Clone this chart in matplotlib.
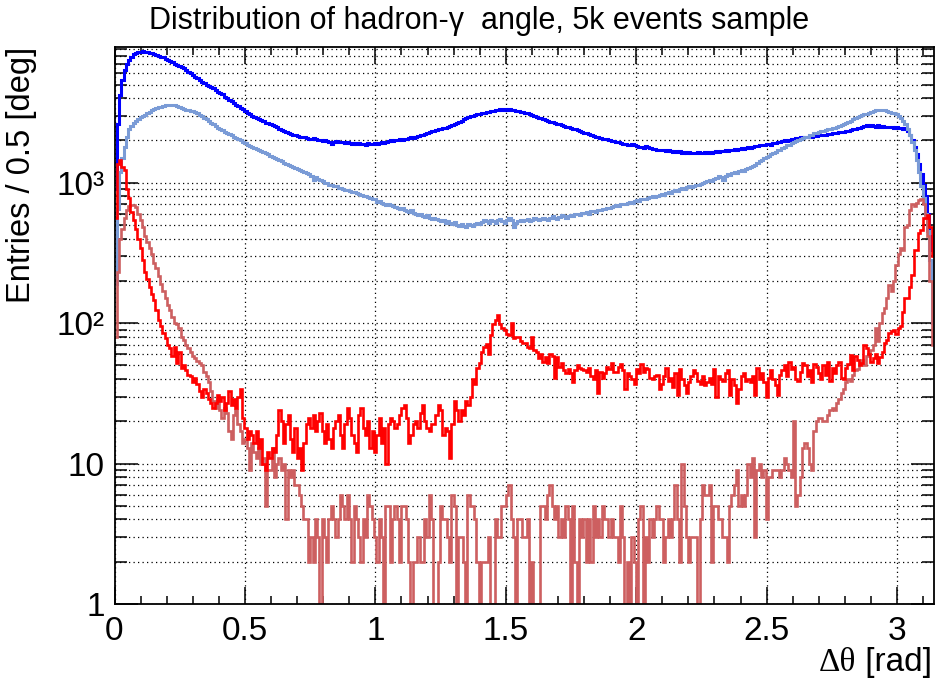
import numpy as np
import matplotlib
matplotlib.use("Agg")
import matplotlib.pyplot as plt
from matplotlib.ticker import MultipleLocator, LogLocator, NullFormatter

plt.rcParams['font.family'] = ['Liberation Sans', 'DejaVu Sans']

# ---------------- data ----------------
title = "Distribution of hadron-\u03b3  angle, 5k events sample"
x_label_sym = "\u0394\u03b8"
x_label_unit = " [rad]"
y_label = "Entries / 0.5 [deg]"

n_bins = 360                      # 0.5 deg bins over [0, pi]
x_min, x_max = 0.0, np.pi

x_ticks = [0, 0.5, 1, 1.5, 2, 2.5, 3]
x_tick_labels = ["0", "0.5", "1", "1.5", "2", "2.5", "3"]
y_ticks = [1, 10, 100, 1000]
y_tick_labels = ["1", "10", "10\u00b2", "10\u00b3"]

blue_dark = [
    900, 2600, 4200, 5400, 6300, 7000, 7500, 7900, 8200, 8400, 8500, 8550, 8600, 8550, 8500, 8450, 8350, 8250, 8150, 8000,
    7900, 7800, 7650, 7500, 7350, 7200, 7050, 6900, 6800, 6700, 6550, 6350, 6150, 6000, 5850, 5700, 5550, 5400, 5250, 5100,
    5000, 4900, 4800, 4700, 4550, 4450, 4350, 4250, 4100, 4000, 3900, 3800, 3700, 3600, 3500, 3420, 3350, 3250, 3150, 3080,
    3000, 2950, 2900, 2850, 2800, 2750, 2680, 2640, 2600, 2560, 2520, 2480, 2430, 2380, 2340, 2290, 2250, 2220, 2200, 2180,
    2150, 2130, 2100, 2120, 2080, 2060, 2050, 2070, 2030, 2010, 2000, 1990, 2010, 1980, 1960, 1880, 1950, 1970, 1950, 1940,
    1950, 1930, 1940, 1920, 1900, 1930, 1890, 1910, 1880, 1900, 1870, 1920, 1890, 1900, 1930, 1880, 1910, 1950, 1930, 1960,
    1980, 2000, 1970, 2010, 2000, 2040, 2020, 2060, 2050, 2080, 2100, 2090, 2130, 2150, 2180, 2200, 2230, 2250, 2290, 2320,
    2340, 2370, 2400, 2430, 2450, 2470, 2500, 2540, 2570, 2600, 2640, 2700, 2760, 2820, 2870, 2920, 2960, 3000, 3040, 3080,
    3100, 3120, 3160, 3200, 3210, 3250, 3230, 3280, 3300, 3330, 3310, 3340, 3300, 3320, 3290, 3280, 3260, 3230, 3200, 3180,
    3150, 3110, 3070, 3030, 2990, 2950, 2900, 2870, 2820, 2790, 2750, 2720, 2690, 2660, 2630, 2600, 2570, 2540, 2510, 2480,
    2450, 2420, 2400, 2370, 2340, 2300, 2270, 2250, 2220, 2190, 2160, 2130, 2100, 2090, 2060, 2040, 2030, 2010, 1990, 1970,
    1950, 1940, 1920, 1900, 1890, 1870, 1860, 1880, 1850, 1830, 1800, 1790, 1780, 1810, 1790, 1760, 1740, 1730, 1720, 1710,
    1710, 1700, 1690, 1710, 1680, 1660, 1680, 1650, 1670, 1640, 1660, 1630, 1650, 1620, 1640, 1630, 1660, 1620, 1640, 1650,
    1640, 1660, 1630, 1650, 1670, 1660, 1690, 1680, 1700, 1690, 1720, 1700, 1730, 1710, 1740, 1760, 1740, 1770, 1790, 1780,
    1800, 1820, 1810, 1840, 1860, 1850, 1880, 1900, 1870, 1910, 1930, 1950, 1940, 1970, 2000, 1980, 2020, 2040, 2060, 2080,
    2070, 2100, 2090, 2120, 2110, 2140, 2130, 2160, 2150, 2180, 2170, 2200, 2190, 2220, 2230, 2250, 2240, 2270, 2280, 2300,
    2310, 2330, 2350, 2380, 2400, 2420, 2440, 2470, 2500, 2520, 2560, 2540, 2580, 2550, 2510, 2560, 2490, 2520, 2480, 2500,
    2480, 2500, 2460, 2490, 2450, 2470, 2420, 2440, 2350, 2200, 2000, 1800, 1600, 1350, 1150, 970, 800, 600, 420, 330,
]

blue_light = [
    190, 650, 1200, 1500, 1800, 2100, 2400, 2550, 2650, 2750, 2850, 2950, 3000, 3050, 3150, 3200, 3280, 3350, 3400, 3450,
    3480, 3520, 3550, 3570, 3580, 3570, 3560, 3530, 3480, 3420, 3330, 3300, 3280, 3260, 3250, 3200, 3120, 3050, 2980, 2900,
    2820, 2740, 2680, 2600, 2540, 2470, 2420, 2360, 2310, 2260, 2210, 2170, 2130, 2080, 2040, 2000, 1960, 1910, 1870, 1830,
    1800, 1770, 1740, 1710, 1680, 1650, 1620, 1590, 1560, 1530, 1500, 1470, 1440, 1420, 1390, 1360, 1340, 1310, 1290, 1270,
    1250, 1230, 1210, 1190, 1170, 1150, 1120, 1050, 1100, 1060, 1040, 1020, 1000, 990, 970, 960, 940, 950, 920, 910,
    900, 890, 880, 870, 855, 860, 840, 830, 820, 810, 800, 790, 780, 770, 760, 730, 740, 720, 700, 690,
    700, 690, 680, 670, 660, 650, 665, 640, 630, 620, 635, 610, 600, 590, 595, 580, 570, 585, 560, 555,
    560, 550, 545, 530, 540, 520, 535, 515, 510, 525, 500, 490, 505, 495, 485, 510, 500, 490, 505, 520,
    510, 525, 540, 530, 520, 545, 530, 515, 540, 550, 535, 520, 540, 560, 545, 480, 520, 535, 545, 530,
    540, 550, 535, 545, 560, 550, 540, 555, 565, 550, 545, 560, 575, 565, 555, 570, 585, 575, 565, 580,
    590, 580, 600, 595, 590, 610, 605, 620, 600, 630, 625, 615, 640, 635, 650, 645, 660, 655, 670, 680,
    690, 680, 700, 710, 705, 720, 730, 715, 740, 750, 745, 760, 770, 765, 780, 790, 800, 795, 810, 820,
    830, 820, 845, 860, 850, 870, 885, 875, 900, 910, 900, 925, 940, 930, 950, 965, 955, 980, 995, 1010,
    1020, 1040, 1030, 1060, 1080, 1110, 1090, 1050, 1120, 1150, 1140, 1170, 1190, 1180, 1210, 1230, 1220, 1250, 1270, 1290,
    1310, 1340, 1380, 1420, 1450, 1490, 1530, 1560, 1600, 1630, 1660, 1700, 1720, 1760, 1800, 1840, 1870, 1910, 1950, 1990,
    2010, 2040, 2080, 2100, 2130, 2170, 2200, 2240, 2270, 2300, 2330, 2350, 2380, 2400, 2420, 2450, 2470, 2500, 2530, 2560,
    2600, 2650, 2700, 2760, 2820, 2870, 2920, 2970, 3010, 3060, 3100, 3150, 3190, 3230, 3270, 3300, 3310, 3290, 3280, 3250,
    3200, 3150, 3120, 3080, 3000, 2900, 2750, 2600, 2400, 2200, 1950, 1700, 1450, 1200, 950, 780, 600, 450, 280, 100,
]

red_dark = [
    560, 1350, 1450, 1300, 1240, 900, 780, 620, 540, 470, 400, 340, 280, 230, 205, 180, 160, 145, 125, 105,
    95, 85, 78, 70, 66, 58, 68, 52, 62, 48, 50, 46, 43, 42, 38, 41, 37, 33, 30, 34,
    32, 29, 27, 25, 27, 31, 28, 30, 24, 27, 33, 26, 29, 25, 30, 34, 21, 18, 15, 17,
    16, 14, 17, 13, 15, 10, 9, 12, 11, 13, 12, 16, 24, 20, 14, 19, 22, 15, 12, 18,
    11, 13, 9, 14, 19, 21, 18, 22, 17, 20, 23, 17, 14, 19, 15, 13, 18, 20, 22, 16,
    13, 19, 25, 21, 16, 14, 12, 22, 25, 18, 16, 20, 13, 17, 12, 16, 21, 14, 18, 10,
    19, 21, 20, 18, 19, 22, 25, 26, 21, 14, 16, 19, 20, 18, 23, 26, 20, 18, 17, 19,
    19, 22, 26, 24, 16, 18, 17, 11, 19, 28, 24, 20, 24, 22, 28, 26, 30, 40, 37, 48,
    52, 62, 68, 71, 60, 82, 98, 105, 115, 98, 92, 90, 84, 82, 100, 78, 80, 79, 75, 72,
    72, 68, 66, 79, 64, 62, 56, 60, 53, 57, 52, 60, 58, 41, 57, 49, 52, 46, 44, 47,
    44, 38, 46, 50, 48, 47, 46, 45, 48, 42, 40, 46, 32, 45, 41, 44, 49, 47, 52, 45,
    45, 49, 51, 46, 34, 44, 42, 40, 37, 47, 44, 51, 45, 48, 47, 41, 40, 42, 43, 34,
    37, 42, 48, 39, 41, 35, 44, 31, 47, 40, 36, 32, 38, 42, 46, 44, 39, 37, 42, 36,
    38, 41, 37, 47, 30, 42, 40, 39, 44, 46, 31, 40, 36, 27, 34, 42, 44, 39, 40, 38,
    42, 31, 48, 40, 44, 38, 30, 41, 46, 40, 36, 31, 43, 46, 50, 42, 53, 47, 49, 40,
    39, 45, 52, 50, 42, 46, 38, 51, 49, 44, 40, 50, 43, 53, 39, 48, 44, 50, 53, 41,
    40, 48, 51, 59, 46, 58, 55, 50, 52, 70, 66, 60, 53, 56, 60, 52, 57, 62, 72, 76,
    85, 88, 90, 84, 92, 95, 120, 150, 150, 180, 220, 330, 330, 440, 460, 560, 560, 590, 480, 300,
]

red_light = [
    80, 230, 400, 470, 560, 640, 680, 690, 690, 670, 600, 540, 480, 420, 380, 340, 310, 270, 245, 215,
    190, 170, 150, 135, 125, 110, 100, 98, 92, 80, 76, 70, 66, 62, 58, 56, 54, 52, 50, 45,
    42, 38, 33, 28, 25, 29, 24, 21, 25, 23, 17, 15, 22, 24, 19, 17, 14, 15, 13, 9,
    14, 12, 11, 13, 10, 11, 5, 9, 9, 13, 8, 10, 11, 9, 10, 4, 9, 8, 9, 7,
    7, 6, 5, 4, 4, 2, 3, 2, 4, 3, 1, 4, 3, 2, 4, 5, 4, 3, 4, 6,
    5, 4, 6, 4, 2, 5, 4, 3, 2, 4, 3, 6, 5, 4, 3, 2, 4, 3, 1, 5,
    5, 2, 4, 5, 4, 2, 5, 5, 4, 2, 1, 2, 2, 3, 2, 2, 4, 3, 6, 4,
    1, 1, 2, 5, 4, 4, 3, 2, 6, 5, 1, 3, 3, 2, 1, 6, 5, 5, 4, 2,
    1, 2, 2, 2, 3, 1, 1, 4, 3, 3, 5, 5, 6, 7, 4, 3, 1, 4, 4, 3,
    3, 4, 1, 2, 1, 1, 1, 5, 5, 4, 6, 7, 5, 4, 5, 3, 4, 3, 5, 4,
    1, 5, 2, 1, 4, 3, 4, 2, 4, 2, 5, 3, 4, 3, 5, 4, 4, 3, 4, 3,
    3, 2, 5, 3, 1, 2, 1, 3, 2, 1, 4, 5, 1, 3, 2, 4, 3, 4, 5, 4,
    4, 2, 3, 4, 3, 4, 7, 4, 2, 10, 5, 3, 2, 3, 3, 3, 1, 4, 7, 6,
    6, 7, 2, 5, 5, 4, 4, 3, 3, 2, 5, 6, 7, 9, 5, 6, 5, 6, 10, 8,
    11, 3, 9, 10, 8, 9, 4, 8, 8, 9, 9, 9, 8, 9, 11, 10, 9, 8, 20, 5,
    6, 8, 13, 14, 13, 10, 9, 17, 20, 21, 21, 20, 20, 22, 24, 25, 24, 27, 29, 32,
    34, 38, 40, 39, 43, 46, 47, 52, 55, 50, 58, 60, 64, 70, 92, 75, 100, 118, 128, 150,
    186, 170, 200, 260, 310, 345, 330, 480, 500, 640, 700, 680, 720, 750, 760, 700, 560, 420, 200, 70,
]

# ---------------- figure ----------------
W, H = 935, 680
fig = plt.figure(figsize=(W / 100, H / 100), dpi=100)
ax_l, ax_r, ax_t, ax_b = 114.5, 934.0, 47.0, 604.0
ax = fig.add_axes([ax_l / W, 1 - ax_b / H, (ax_r - ax_l) / W, (ax_b - ax_t) / H])
ax.set_yscale('log')

edges = np.linspace(x_min, x_max, n_bins + 1)
series = [
    (blue_dark, '#0000ff', 2.2),
    (blue_light, '#7a9bd6', 2.2),
    (red_light, '#cd5f60', 1.9),
    (red_dark, '#ff0000', 1.9),
]
for vals, col, lw in series:
    ax.stairs(np.asarray(vals, dtype=float), edges, baseline=None,
              color=col, linewidth=lw)

ax.set_xlim(x_min, x_max)
ax.set_ylim(1, 9250)

ax.set_xticks(x_ticks, labels=x_tick_labels)
ax.xaxis.set_minor_locator(MultipleLocator(0.1))
ax.set_yticks(y_ticks, labels=y_tick_labels)
ax.yaxis.set_minor_locator(LogLocator(base=10, subs=np.arange(2, 10)))
ax.yaxis.set_minor_formatter(NullFormatter())

grid_kw = dict(color='black', linestyle=(0, (1, 2.6)), linewidth=0.9)
ax.grid(True, which='major', axis='x', **grid_kw)
ax.grid(True, which='both', axis='y', **grid_kw)
ax.set_axisbelow(True)

ax.tick_params(axis='both', which='both', direction='in', top=True, right=True,
               width=1.1, color='black')
ax.tick_params(axis='x', which='major', length=12, labelsize=24, pad=9)
ax.tick_params(axis='x', which='minor', length=6)
ax.tick_params(axis='y', which='major', length=16.5, labelsize=24, pad=7)
ax.tick_params(axis='y', which='minor', length=8.5)
for s in ax.spines.values():
    s.set_linewidth(1.3)

# titles
fig.text(479 / W, 1 - 21 / H, title, ha='center', va='center', fontsize=22)
ax.text((22 - ax_l) / (ax_r - ax_l), 1.0, y_label, rotation=90, ha='center',
        va='top', transform=ax.transAxes, fontsize=23.5)

base_y = 1 - 671 / H
t_unit = fig.text(932.5 / W, base_y, x_label_unit, ha='right', va='baseline', fontsize=24)
fig.canvas.draw()
bb = t_unit.get_window_extent()
fig.text(bb.x0 / W, base_y, x_label_sym, ha='right', va='baseline', fontsize=24,
         family=['Liberation Serif', 'DejaVu Serif'])

fig.savefig('out.png', dpi=100)
